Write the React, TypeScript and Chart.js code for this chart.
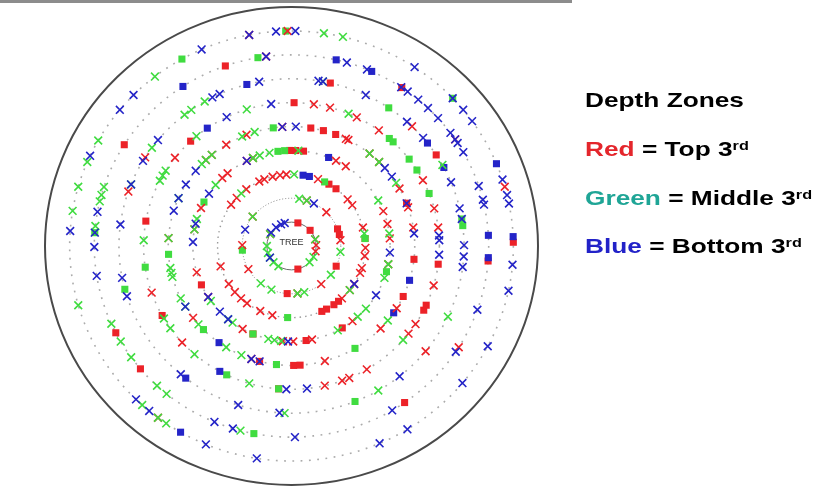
import { useEffect, useRef } from 'react';
import { Chart, registerables } from 'chart.js';

Chart.register(...registerables);

// Each mark: [ring number, bearing in degrees (0 = east, counter-clockwise)]
type Mark = [number, number];

const ringRadii = [1, 2, 3, 4, 5, 6, 7, 8, 9];
const outerRadius = 10;
const centerLabel = 'TREE';

const redSquares: Mark[] = [
  [9, 1],
  [8, 109.6], [8, 148], [8, 56], [8, -4.5], [8, -55], [8, -140], [8, -153],
  [7, 77], [7, 33],
  [6, 133], [6, 170], [6, -151], [6, -95], [6, -26.6], [6, -24.4], [6, -7.3], [6, 89],
  [5, 81], [5, 75], [5, 69], [5, 21], [5, -6.4], [5, -25], [5, -89], [5, -86], [5, -105],
  [4, 91], [4, 87.5], [4, 83], [4, -59], [4, -81.5], [4, -113], [4, -156],
  [3, 59.6], [3, 53], [3, 6], [3, -50.5], [3, -55], [3, -61.7], [3, -65.8],
  [2, 21], [2, 14], [2, -25], [2, -95],
  [1, 75], [1, 41], [1, -75],
];

const redCrosses: Mark[] = [
  [9, 101], [9, 91], [9, 16], [9, -127],
  [8, 97.4], [8, 33.9], [8, -32],
  [7, 148], [7, 161], [7, 45.7], [7, -39],
  [6, 142], [6, -161], [6, -137.7], [6, -77], [6, -70], [6, -67], [6, -59.4], [6, -37.7], [6, -33],
  [6, -16], [6, 7.4], [6, 15.2], [6, 27.3], [6, 53.8], [6, 63.8], [6, 74.9], [6, 81.3],
  [5, 94.3], [5, 62.5], [5, 63.8], [5, 50.7], [5, 44.7], [5, 28.8], [5, 18.9], [5, 8.9], [5, -31.4],
  [5, -43.7], [5, -74.3], [5, -109], [5, -143], [5, 176.2], [5, 134], [5, 130.3], [5, 122], [5, 111.4],
  [4, 117], [4, 113], [4, 63.2], [4, 56.6], [4, 21.4], [4, 13.3], [4, 4.6], [4, -11], [4, -51.8],
  [4, -78], [4, -89], [4, -95], [4, -119.7], [4, -147.7], [4, -164], [4, 170], [4, 156.6], [4, 134.6], [4, 130.4],
  [3, 127.7], [3, 137.8], [3, 144.8], [3, 115.8], [3, 111.5], [3, 104.8], [3, 98.9], [3, 94], [3, 69],
  [3, 40.6], [3, 34.8], [3, 15], [3, -1.5], [3, -8], [3, -18], [3, -22], [3, -32], [3, -38], [3, -47],
  [3, -105], [3, -115], [3, -127], [3, -133], [3, -140], [3, -148], [3, -163.5],
  [2, 72], [2, 45], [2, 7], [2, -53], [2, -83], [2, -151], [2, 179], [2, 142],
  [1, 16], [1, 2], [1, -13], [1, 150],
];

const greenSquares: Mark[] = [
  [9, 91.5], [9, 119.6], [9, 43.4],
  [8, 99.8], [8, 176], [8, -101],
  [7, -165], [7, 55.7], [7, 9.3], [7, 7], [7, -68.4],
  [6, -171.5], [6, -116], [6, -95], [6, 21.5], [6, 32], [6, 37.3], [6, 46.6], [6, 48.6],
  [5, 98.5], [5, -59], [5, -97], [5, -135.6], [5, -176],
  [4, 97.9], [4, 94], [4, -15.6], [4, -113], [4, 152.6],
  [3, 63.4], [3, 6], [3, -93],
  [2, -175],
];

const greenCrosses: Mark[] = [
  [9, 81.6], [9, 76.6], [9, 128], [9, 150.6], [9, 157], [9, 164], [9, 170.6], [9, -132.3], [9, -127], [9, -124.4], [9, -164],
  [8, 162], [8, 164.5], [8, 166.5], [8, 174], [8, -105], [8, -129.3], [8, -133], [8, -144.4], [8, -150], [8, -156],
  [7, 120.2], [7, 125.5], [7, 128.3], [7, 144], [7, 158.4], [7, 79.5], [7, 29], [7, -25], [7, -59.8], [7, -92.3],
  [6, 107.6], [6, 130], [6, 148.3], [6, 150.6], [6, 152.9], [6, 177.7], [6, -149.6], [6, -145], [6, -131], [6, -106.6], [6, -41], [6, 67.3],
  [5, 50.7], [5, 44.7], [5, 31.9], [5, -38.6], [5, -114], [5, -122], [5, -139], [5, -149.5], [5, -154], [5, -165], [5, -167],
  [5, -169.4], [5, 176.2], [5, 156.4], [5, 136.7], [5, 134], [5, 130.3], [5, 113.6], [5, 107.4],
  [4, 108.8], [4, 102.9], [4, 86], [4, 113], [4, 28.4], [4, 7.5], [4, -11], [4, -19.5], [4, -41], [4, -47.8], [4, -62],
  [4, -96], [4, -100], [4, -103.6], [4, -126.7], [4, -130], [4, -144.9], [4, 163.6], [4, 170], [4, 140.3],
  [3, 132.8], [3, 88], [3, 10], [3, -38],
  [2, 81], [2, 72], [2, -7], [2, -37], [2, -75], [2, -83], [2, -114], [2, -128.5], [2, 142],
  [1, 16], [1, -27], [1, -43], [1, -122], [1, -137], [1, -151], [1, -163], [1, 180], [1, 150],
];

const blueSquares: Mark[] = [
  [9, 22.5], [9, 2.5], [9, -120],
  [8, 123.4], [8, 76.9], [8, 66], [8, 3.2], [8, -3.5],
  [7, 105], [7, 38], [7, 28], [7, -127.8],
  [6, 124.7], [6, -119],
  [5, -16.7], [5, -34], [5, -126],
  [4, 67.9],
  [3, 81], [3, 76],
];

const blueCrosses: Mark[] = [
  [9, 101], [9, 94], [9, 89], [9, 113.9], [9, 135.4], [9, 140.7], [9, 155.2], [9, 176], [9, 56.3], [9, 43.4],
  [9, 39.3], [9, 35.5], [9, 18], [9, 13.7], [9, 11.4], [9, -5], [9, -12], [9, -27.8], [9, -39.6], [9, -58.5],
  [9, -66.6], [9, -99], [9, -112.7], [9, -134.5], [9, -129.9],
  [8, 97.4], [8, 169.7], [8, 176], [8, 180.3], [8, 73.7], [8, 67.5], [8, 56.2], [8, 53.9], [8, 50], [8, 46.2],
  [8, 42], [8, 36.3], [8, 33.9], [8, 32.6], [8, 29.4], [8, 18.3], [8, 14], [8, 12.5], [8, -19.5], [8, -33.6],
  [8, -59.3], [8, -89], [8, -107.3], [8, -113], [8, -171],
  [7, 100.8], [7, 117.3], [7, 114.6], [7, 140.7], [7, 149.4], [7, 158.4], [7, 172.6], [7, -169], [7, -162.5],
  [7, 81], [7, 79.5], [7, 64.5], [7, 48], [7, 40.3], [7, 22.4], [7, 13], [7, 9.3], [7, 0.3], [7, -3.6],
  [7, -7.2], [7, -51.2], [7, -94], [7, -108], [7, -129.9],
  [6, 97.9], [6, 116], [6, -92], [6, -84], [6, -3.5], [6, 2.3], [6, 4.2],
  [5, 94.3], [5, 88], [5, 40.8], [5, 35.5], [5, 20.9], [5, 6], [5, -105], [5, -109], [5, -149.5], [5, 162.8],
  [5, 156.4], [5, 149], [5, 141],
  [4, 117], [4, -4], [4, -31], [4, -92], [4, -130], [4, -136.6], [4, -147.7], [4, 177.6], [4, 166.5], [4, 146.8],
  [3, -32],
  [2, 63], [2, 160],
  [1, 146], [1, 129], [1, 115], [1, 106], [1, -151],
];

const RED = '#ec2228';
const GREEN = '#40dc40';
const BLUE = '#2424c8';

const toPoints = (marks: Mark[]) =>
  marks.map(([r, a]) => ({ x: r * Math.cos((a * Math.PI) / 180), y: r * Math.sin((a * Math.PI) / 180) }));

const ringsPlugin = {
  id: 'rings',
  beforeDatasetsDraw(chart: any) {
    const { ctx, scales } = chart;
    const xs = scales.x;
    const ys = scales.y;
    const cx = xs.getPixelForValue(0);
    const cy = ys.getPixelForValue(0);
    const ux = xs.getPixelForValue(1) - cx;
    const uy = cy - ys.getPixelForValue(1);
    ctx.save();
    ringRadii.forEach((r) => {
      ctx.beginPath();
      if (r === 1) {
        ctx.setLineDash([]);
        ctx.strokeStyle = '#6a6a6a';
        ctx.lineWidth = 1;
      } else if (r === 2) {
        ctx.setLineDash([1, 2]);
        ctx.strokeStyle = '#808080';
        ctx.lineWidth = 1;
      } else if (r === 3) {
        ctx.setLineDash([1.5, 4]);
        ctx.strokeStyle = '#9a9a9a';
        ctx.lineWidth = 1.4;
      } else {
        ctx.setLineDash([1.8, 6.5]);
        ctx.strokeStyle = '#ababab';
        ctx.lineWidth = 1.6;
      }
      ctx.ellipse(cx, cy, r * ux, r * uy, 0, 0, Math.PI * 2);
      ctx.stroke();
    });
    ctx.setLineDash([]);
    ctx.beginPath();
    ctx.strokeStyle = '#4a4a4a';
    ctx.lineWidth = 2;
    ctx.ellipse(cx, cy, outerRadius * ux, outerRadius * uy, 0, 0, Math.PI * 2);
    ctx.stroke();
    ctx.fillStyle = '#333333';
    ctx.font = '9px "Liberation Sans", Arial, sans-serif';
    ctx.textAlign = 'center';
    ctx.textBaseline = 'middle';
    ctx.fillText(centerLabel, cx, cy - 3);
    ctx.restore();
  },
};

const crossDs = (label: string, marks: Mark[], color: string) => ({
  label,
  data: toPoints(marks),
  pointStyle: 'crossRot',
  pointRadius: 5.5,
  pointBorderWidth: 1.6,
  borderColor: color,
  backgroundColor: color,
  pointBorderColor: color,
  showLine: false,
});

const squareDs = (label: string, marks: Mark[], color: string) => ({
  label,
  data: toPoints(marks),
  pointStyle: 'rect',
  pointRadius: 5,
  pointBorderWidth: 0,
  borderColor: color,
  backgroundColor: color,
  pointBackgroundColor: color,
  showLine: false,
});

const legendLine = (top: number, color: string, word: string, rest: string, sup: boolean) => (
  <div
    style={{
      position: 'absolute',
      left: 585,
      top,
      fontFamily: '"Liberation Sans", Arial, sans-serif',
      fontWeight: 'bold',
      fontSize: 21,
      lineHeight: '21px',
      whiteSpace: 'nowrap',
      color: '#000',
      transform: 'scaleX(1.25)',
      transformOrigin: 'left top',
    }}
  >
    {word ? <span style={{ color }}>{word}</span> : null}
    {rest}
    {sup ? <span style={{ fontSize: 13, verticalAlign: '6px' }}>rd</span> : null}
  </div>
);

export default function App() {
  const ref = useRef<HTMLCanvasElement | null>(null);
  useEffect(() => {
    if (!ref.current) return;
    const chart = new Chart(ref.current, {
      type: 'scatter',
      data: {
        datasets: [
          crossDs('Blue x', blueCrosses, BLUE),
          crossDs('Green x', greenCrosses, GREEN),
          crossDs('Red x', redCrosses, RED),
          squareDs('Blue sq', blueSquares, BLUE),
          squareDs('Green sq', greenSquares, GREEN),
          squareDs('Red sq', redSquares, RED),
        ] as any,
      },
      options: {
        responsive: false,
        animation: false,
        events: [],
        layout: { padding: { left: 45, right: 286, top: 2, bottom: 2 } },
        scales: {
          x: { type: 'linear', min: -outerRadius, max: outerRadius, display: false },
          y: { type: 'linear', min: -outerRadius, max: outerRadius, display: false },
        },
        plugins: { legend: { display: false }, tooltip: { enabled: false } },
      } as any,
      plugins: [ringsPlugin],
    });
    return () => chart.destroy();
  }, []);

  return (
    <div style={{ position: 'fixed', left: 0, top: 0, width: 824, height: 492, background: '#fff', overflow: 'hidden' }}>
      <canvas ref={ref} width={824} height={492} style={{ display: 'block', position: 'absolute', left: 0, top: 0 }} />
      <div style={{ position: 'absolute', left: 0, top: 0, width: 572, height: 3, background: '#8c8c8c' }} />
      {legendLine(89, '#000', '', 'Depth Zones', false)}
      {legendLine(135, '#e4262c', 'Red', ' = Top 3', true)}
      {legendLine(184, '#1fa596', 'Green', ' = Middle 3', true)}
      {legendLine(232, '#2222c8', 'Blue', ' = Bottom 3', true)}
    </div>
  );
}
